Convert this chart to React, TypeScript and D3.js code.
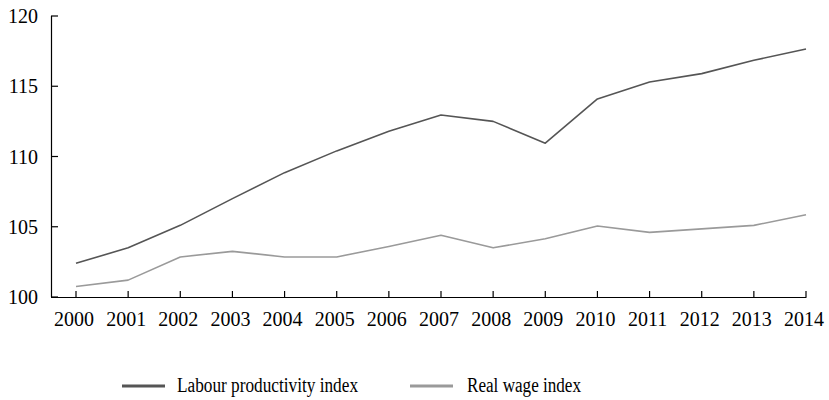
import * as React from 'react';
import * as d3 from 'd3';

// values
const years = [2000, 2001, 2002, 2003, 2004, 2005, 2006, 2007, 2008, 2009, 2010, 2011, 2012, 2013, 2014];
const labourProductivity = [102.4, 103.5, 105.1, 107.0, 108.85, 110.4, 111.8, 112.95, 112.5, 110.95, 114.1, 115.3, 115.9, 116.85, 117.65];
const realWage = [100.75, 101.2, 102.85, 103.25, 102.85, 102.85, 103.6, 104.4, 103.5, 104.15, 105.05, 104.6, 104.85, 105.1, 105.85];
const yTicks = [100, 105, 110, 115, 120];

const series = [
  { name: 'Labour productivity index', values: labourProductivity, color: '#555555' },
  { name: 'Real wage index', values: realWage, color: '#9a9a9a' },
];

const width = 829;
const height = 400;
const axisLeft = 51;
const plotLeft = 76;
const plotRight = 806;
const plotTop = 16;
const plotBottom = 297;
const font = '"Liberation Serif", "Times New Roman", serif';

const App: React.FC = () => {
  const x = d3.scaleLinear().domain([years[0], years[years.length - 1]]).range([plotLeft, plotRight]);
  const y = d3.scaleLinear().domain([100, 120]).range([plotBottom, plotTop]);

  const line = d3.line<number>()
    .x((d, i) => x(years[i]))
    .y(d => y(d))
    .curve(d3.curveLinear);

  // legend entries
  const legend = [
    { lx: 122, tx: 177, tlen: 181 },
    { lx: 410, tx: 467, tlen: 114 },
  ];

  return (
    <svg width={width} height={height} style={{ position: 'absolute', left: 0, top: 0, background: '#fff' }}
      fontFamily={font}>
      {/* y axis */}
      <line x1={axisLeft + 0.5} x2={axisLeft + 0.5} y1={plotTop} y2={plotBottom} stroke="#000" strokeWidth={1.2} />
      {yTicks.map(t => (
        <g key={t}>
          <line x1={axisLeft} x2={axisLeft + 7} y1={y(t)} y2={y(t)} stroke="#000" strokeWidth={1.2} />
          <text x={38} y={y(t)} dy="0.35em" textAnchor="end" fontSize={20} fill="#000">{t}</text>
        </g>
      ))}
      {/* x axis */}
      <line x1={axisLeft} x2={plotRight + 0.5} y1={plotBottom + 0.5} y2={plotBottom + 0.5} stroke="#000" strokeWidth={1.2} />
      {years.map(yr => (
        <g key={yr}>
          <line x1={x(yr)} x2={x(yr)} y1={plotBottom} y2={plotBottom - 6} stroke="#000" strokeWidth={1.2} />
          <text x={x(yr) - 2} y={326} textAnchor="middle" fontSize={20} fill="#000">{yr}</text>
        </g>
      ))}
      {/* series */}
      {series.map(s => (
        <path key={s.name} d={line(s.values) || undefined} fill="none" stroke={s.color} strokeWidth={1.6}
          strokeLinejoin="round" />
      ))}
      {/* legend */}
      {series.map((s, i) => (
        <g key={s.name}>
          <line x1={legend[i].lx} x2={legend[i].lx + 43} y1={386} y2={386} stroke={s.color} strokeWidth={3} />
          <text x={legend[i].tx} y={392} fontSize={20} fill="#000"
            textLength={legend[i].tlen} lengthAdjust="spacingAndGlyphs">{s.name}</text>
        </g>
      ))}
    </svg>
  );
};

export default App;
